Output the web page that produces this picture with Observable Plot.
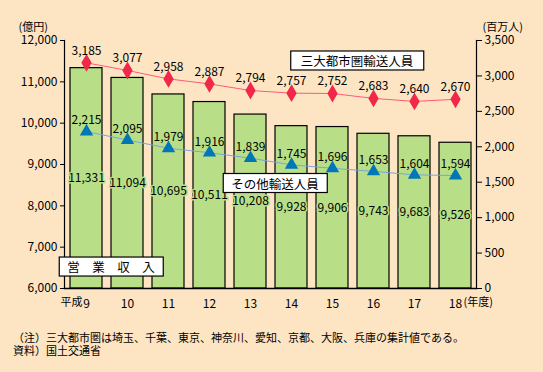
<!DOCTYPE html>
<html><head><meta charset="utf-8">
<script src="https://cdn.jsdelivr.net/npm/d3@7"></script>
<script src="https://cdn.jsdelivr.net/npm/@observablehq/plot@0.6"></script>
<style>
html,body{margin:0;padding:0;background:#fde5c4;}
body{width:543px;height:372px;overflow:hidden;font-family:"Noto Sans CJK JP",sans-serif;}
#notes{font-size:11px;line-height:13px;color:#000;padding-left:13px;margin-top:11px;}
</style></head>
<body><div id="chart"></div>
<div id="notes"><div>（注）三大都市圏は埼玉、千葉、東京、神奈川、愛知、京都、大阪、兵庫の集計値である。</div><div>資料）国土交通省</div></div>
<script>
const years = [9, 10, 11, 12, 13, 14, 15, 16, 17, 18];
const revenue = [11331, 11094, 10695, 10511, 10208, 9928, 9906, 9743, 9683, 9526];
const metro = [3185, 3077, 2958, 2887, 2794, 2757, 2752, 2683, 2640, 2670];
const other = [2215, 2095, 1979, 1916, 1839, 1745, 1696, 1653, 1604, 1594];
const leftTicks = [6000, 7000, 8000, 9000, 10000, 11000, 12000];
const rightTicks = [0, 500, 1000, 1500, 2000, 2500, 3000, 3500];

const yMin = 6000, yMax = 12000, rMax = 3500;
const toLeft = v => yMin + v * (yMax - yMin) / rMax;
const fmt = d3.format(",");

const bars = years.map((y, i) => ({year: y, v: revenue[i]}));
const m = years.map((y, i) => ({year: y, v: metro[i], y2: toLeft(metro[i])}));
const o = years.map((y, i) => ({year: y, v: other[i], y2: toLeft(other[i])}));

const font = "Noto Sans CJK JP, sans-serif";
const legends = [
  {year: 16, y: 11468, dx: 20, text: "三大都市圏輸送人員"},
  {year: 14, y: 8504, dx: 22, text: "その他輸送人員"},
  {year: 10, y: 6483, dx: -1, text: "営　業　収　入"}
];

const chart = Plot.plot({
  width: 543, height: 320,
  marginLeft: 64, marginRight: 67, marginTop: 40, marginBottom: 32,
  style: {background: "#fde5c4", fontFamily: font, fontSize: "12px", color: "#000"},
  x: {domain: years, paddingInner: 0.22, paddingOuter: 0.1},
  y: {domain: [yMin, yMax]},
  marks: [
    Plot.barY(bars, {x: "year", y1: yMin, y2: "v", fill: "#b8df87", stroke: "#000", strokeWidth: 1.2}),
    Plot.text(bars, {x: "year", y: d => (d.v + yMin) / 2, text: d => fmt(d.v), fill: "#000", stroke: "#b8df87", strokeWidth: 3, fontSize: 12}),
    Plot.frame({anchor: "left", stroke: "#000", strokeWidth: 1.2}),
    Plot.frame({anchor: "right", stroke: "#000", strokeWidth: 1.2}),
    Plot.frame({anchor: "bottom", stroke: "#000", strokeWidth: 1.5}),
    Plot.axisY(leftTicks, {anchor: "left", tickFormat: fmt, tickSize: 4, tickPadding: 3, label: null, fontSize: 12}),
    Plot.axisY(rightTicks.map(toLeft), {anchor: "right", tickFormat: d => fmt(Math.round((d - yMin) * rMax / (yMax - yMin))), tickSize: 5, tickPadding: 3, label: null, fontSize: 12}),
    Plot.axisX(years, {anchor: "bottom", tickSize: 0, tickPadding: 11, label: null, fontSize: 12}),
    Plot.text([years[0]], {x: d => d, frameAnchor: "bottom", dy: 17, dx: -4, text: () => "平成", textAnchor: "end", fontSize: 11}),
    Plot.text([years[years.length - 1]], {x: d => d, frameAnchor: "bottom", dy: 17, dx: 8, text: () => "(年度)", textAnchor: "start", fontSize: 11}),
    Plot.text(["(億円)"], {frameAnchor: "top-left", dx: -46, dy: -17, textAnchor: "start", text: d => d, fontSize: 11}),
    Plot.text(["(百万人)"], {frameAnchor: "top-right", dx: 6, dy: -17, textAnchor: "start", text: d => d, fontSize: 11}),
    Plot.line(m, {x: "year", y: "y2", stroke: "#ff5a78", strokeWidth: 1}),
    Plot.dot(m, {x: "year", y: "y2", symbol: "diamond", r: 4.5, fill: "#f0284a", stroke: "#f0284a"}),
    Plot.text(m, {x: "year", y: "y2", dy: -12, text: d => fmt(d.v), fontSize: 12}),
    Plot.line(o, {x: "year", y: "y2", stroke: "#7aa5d8", strokeWidth: 1}),
    Plot.dot(o, {x: "year", y: "y2", symbol: "triangle", r: 4, fill: "#0077b6", stroke: "#0077b6"}),
    Plot.text(o, {x: "year", y: "y2", dy: -11, text: d => fmt(d.v), fontSize: 12}),
    Plot.text(legends, {x: "year", y: "y", dx: "dx", text: "text", fontSize: 12.5})
  ]
});
document.getElementById("chart").appendChild(chart);

// draw white boxes behind legend labels
const svg = d3.select(chart);
const labelSet = new Set(legends.map(d => d.text));
svg.selectAll("text").each(function() {
  if (!labelSet.has(this.textContent)) return;
  const b = this.getBBox();
  const padX = this.textContent === "三大都市圏輸送人員" ? 10 : 8;
  const r = d3.select(this.parentNode).insert("rect", () => this)
    .attr("x", b.x - padX).attr("y", b.y + b.height / 2 - 9.5)
    .attr("width", b.width + padX * 2).attr("height", 19)
    .attr("fill", "#fff").attr("stroke", "#000").attr("stroke-width", 1.2);
  const t = this.getAttribute("transform");
  if (t) r.attr("transform", t);
});
</script>
</body></html>
